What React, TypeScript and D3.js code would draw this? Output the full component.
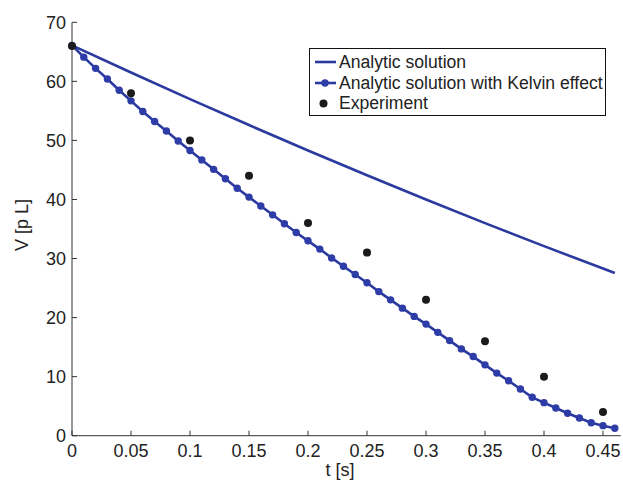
import React from "react";
import * as d3 from "d3";

const kelvinT = [0,0.01,0.02,0.03,0.04,0.05,0.06,0.07,0.08,0.09,0.1,0.11,0.12,0.13,0.14,0.15,0.16,0.17,0.18,0.19,0.2,0.21,0.22,0.23,0.24,0.25,0.26,0.27,0.28,0.29,0.3,0.31,0.32,0.33,0.34,0.35,0.36,0.37,0.38,0.39,0.4,0.41,0.42,0.43,0.44,0.45,0.46];
const kelvinV = [66.1,64.1,62.2,60.4,58.5,56.7,54.9,53.2,51.6,49.9,48.3,46.7,45.1,43.5,41.9,40.4,38.9,37.4,35.9,34.4,33.0,31.6,30.1,28.7,27.3,25.9,24.4,23.0,21.6,20.2,18.9,17.5,16.1,14.7,13.4,12.0,10.6,9.3,7.9,6.5,5.6,4.7,3.8,3.0,2.2,1.7,1.25];

const analyticT = [0,0.05,0.1,0.15,0.2,0.25,0.3,0.35,0.4,0.45,0.46];
const analyticV = [66.1,61.5,57.0,52.6,48.3,44.1,40.0,36.0,32.1,28.3,27.55];

const expT = [0,0.05,0.1,0.15,0.2,0.25,0.3,0.35,0.4,0.45];
const expV = [66,58,50,44,36,31,23,16,10,4];

const xTicks = [0,0.05,0.1,0.15,0.2,0.25,0.3,0.35,0.4,0.45];
const xTickLabels = ["0","0.05","0.1","0.15","0.2","0.25","0.3","0.35","0.4","0.45"];
const yTicks = [0,10,20,30,40,50,60,70];

const legendLabels = ["Analytic solution","Analytic solution with Kelvin effect","Experiment"];

const W = 623, H = 489;
const BLUE = "#2b3a9e";
const MARK = "#2d3ca6";
const FONT = "'Liberation Sans', Arial, Helvetica, sans-serif";
const TXT = "#222";

export default function App() {
  const x = d3.scaleLinear().domain([0, 0.465]).range([72, 620.7]);
  const y = d3.scaleLinear().domain([0, 70]).range([435.7, 22.3]);
  const line = d3.line<[number, number]>().x(d => x(d[0])).y(d => y(d[1]));
  const smooth = d3.line<[number, number]>().x(d => x(d[0])).y(d => y(d[1])).curve(d3.curveMonotoneX);
  const aPts = analyticT.map((t, i) => [t, analyticV[i]] as [number, number]);
  const kPts = kelvinT.map((t, i) => [t, kelvinV[i]] as [number, number]);
  const [x0, x1] = x.range();
  const [y0, y1] = y.range();
  return (
    <svg width={W} height={H} style={{ position: "absolute", left: 0, top: 0, background: "#fff" }} fontFamily={FONT}>
      <rect width={W} height={H} fill="#fff" />
      <line x1={x0} x2={x1} y1={y0} y2={y0} stroke="#333" strokeWidth={1} />
      <line x1={x0} x2={x0} y1={y0} y2={y1} stroke="#333" strokeWidth={1} />
      {xTicks.map((t, i) => (
        <g key={"xt" + i}>
          <line x1={x(t)} x2={x(t)} y1={y0} y2={y0 - 5} stroke="#333" />
          <text x={x(t)} y={y0 + 21.5} textAnchor="middle" fontSize={18} fill={TXT}>{xTickLabels[i]}</text>
        </g>
      ))}
      {yTicks.map((v, i) => (
        <g key={"yt" + i}>
          <line x1={x0} x2={x0 + 5} y1={y(v)} y2={y(v)} stroke="#333" />
          <text x={x0 - 6} y={y(v) + 6.5} textAnchor="end" fontSize={18} fill={TXT}>{v}</text>
        </g>
      ))}
      <text x={340} y={476} textAnchor="middle" fontSize={18} fill={TXT}>t [s]</text>
      <text transform="translate(28,225) rotate(-90)" textAnchor="middle" fontSize={18} fill={TXT}>V [p L]</text>
      <path d={smooth(aPts) || ""} fill="none" stroke={BLUE} strokeWidth={2.6} />
      <path d={line(kPts) || ""} fill="none" stroke={BLUE} strokeWidth={2.6} />
      {kPts.map((p, i) => (
        <circle key={"k" + i} cx={x(p[0])} cy={y(p[1])} r={3.7} fill={MARK} />
      ))}
      {expT.map((t, i) => (
        <circle key={"e" + i} cx={x(t)} cy={y(expV[i])} r={4} fill="#1b1b1b" />
      ))}
      <rect x={309.5} y={48.5} width={296} height={67} fill="#fff" stroke="#111" strokeWidth={1} />
      <line x1={315} x2={336} y1={62} y2={62} stroke={BLUE} strokeWidth={2.6} />
      <text x={339} y={68} fontSize={17.6} fill={TXT}>{legendLabels[0]}</text>
      <line x1={315} x2={336} y1={83} y2={83} stroke={BLUE} strokeWidth={2.6} />
      <circle cx={325} cy={83} r={3.7} fill={MARK} />
      <text x={339} y={89} fontSize={17.6} fill={TXT}>{legendLabels[1]}</text>
      <circle cx={323.5} cy={103.5} r={4} fill="#1b1b1b" />
      <text x={339} y={109} fontSize={17.6} fill={TXT}>{legendLabels[2]}</text>
    </svg>
  );
}
